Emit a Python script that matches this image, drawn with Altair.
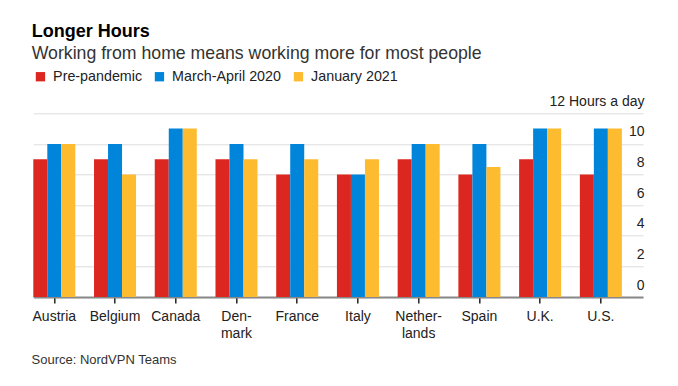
import altair as alt
import pandas as pd

countries = ["Austria", "Belgium", "Canada", "Den-mark", "France", "Italy",
             "Nether-lands", "Spain", "U.K.", "U.S."]
series = ["Pre-pandemic", "March-April 2020", "January 2021"]
colors = ["#dc2620", "#0085da", "#fdbb30"]

pre_pandemic = [9, 9, 9, 9, 8, 8, 9, 8, 9, 8]
march_april_2020 = [10, 10, 11, 10, 10, 8, 10, 10, 11, 11]
january_2021 = [10, 8, 11, 9, 9, 9, 10, 8.5, 11, 11]
y_ticks = [0, 2, 4, 6, 8, 10, 12]

rows = []
for name, vals in zip(series, [pre_pandemic, march_april_2020, january_2021]):
    for c, v in zip(countries, vals):
        rows.append({"country": c, "series": name, "hours": v})
df = pd.DataFrame(rows)

FONT = "Liberation Sans"

chart = alt.Chart(df).mark_bar().encode(
    x=alt.X(
        "country:N",
        sort=countries,
        scale=alt.Scale(paddingInner=0.308, paddingOuter=0.174, align=0),
        axis=alt.Axis(
            title="Source: NordVPN Teams",
            titleFontSize=13,
            titleFontWeight="normal",
            titleColor="#333333",
            titleFont=FONT,
            titleAnchor="start",
            titleAlign="left",
            titleBaseline="alphabetic",
            titleX=-2.3,
            titleY=66.5,
            labelAngle=0,
            labelFontSize=14,
            labelFont=FONT,
            labelColor="#222222",
            labelPadding=6,
            labelLineHeight=17,
            labelOverlap=False,
            labelExpr="split(replace(datum.label, '-', '-|'), '|')",
            domainColor="#888888",
            domainWidth=2,
            tickColor="#222222",
            tickSize=6,
            tickWidth=1.5,
            grid=False,
        ),
    ),
    xOffset=alt.XOffset(
        "series:N",
        sort=series,
        scale=alt.Scale(paddingInner=0, paddingOuter=0),
    ),
    y=alt.Y(
        "hours:Q",
        scale=alt.Scale(domain=[0, 12], nice=False),
        axis=alt.Axis(
            orient="right",
            title=None,
            values=y_ticks,
            labelAlign="right",
            labelBaseline="alphabetic",
            labelOffset=-8,
            labelPadding=1,
            labelFontSize=14,
            labelFont=FONT,
            labelColor="#222222",
            labelExpr="datum.value == 12 ? '12 Hours a day' : datum.label",
            ticks=False,
            domain=False,
            grid=True,
            gridColor="#dddddd",
            gridWidth=1,
        ),
    ),
    color=alt.Color(
        "series:N",
        sort=series,
        scale=alt.Scale(domain=series, range=colors),
        legend=alt.Legend(
            title=None,
            orient="none",
            legendX=0,
            legendY=-44,
            direction="horizontal",
            symbolType="square",
            symbolSize=87,
            symbolStrokeWidth=0,
            symbolOpacity=1,
            labelFontSize=14.3,
            labelFont=FONT,
            labelColor="#222222",
            labelOffset=5.5,
            columnPadding=10,
            padding=0,
        ),
    ),
).properties(
    width=609.7,
    height=183.7,
    title=alt.TitleParams(
        text="Longer Hours",
        subtitle="Working from home means working more for most people",
        anchor="start",
        frame="group",
        font=FONT,
        fontSize=18,
        fontWeight="bold",
        color="#000000",
        subtitleFont=FONT,
        subtitleFontSize=17.7,
        subtitleColor="#333333",
        subtitlePadding=4,
        offset=6.5,
        dx=-1.6,
    ),
    autosize=alt.AutoSizeParams(type="none"),
    padding={"left": 25.3, "top": 105.3, "right": 27, "bottom": 81},
).configure_view(stroke=None)

chart.save("out.html", embed_options={"renderer": "svg", "actions": False})
